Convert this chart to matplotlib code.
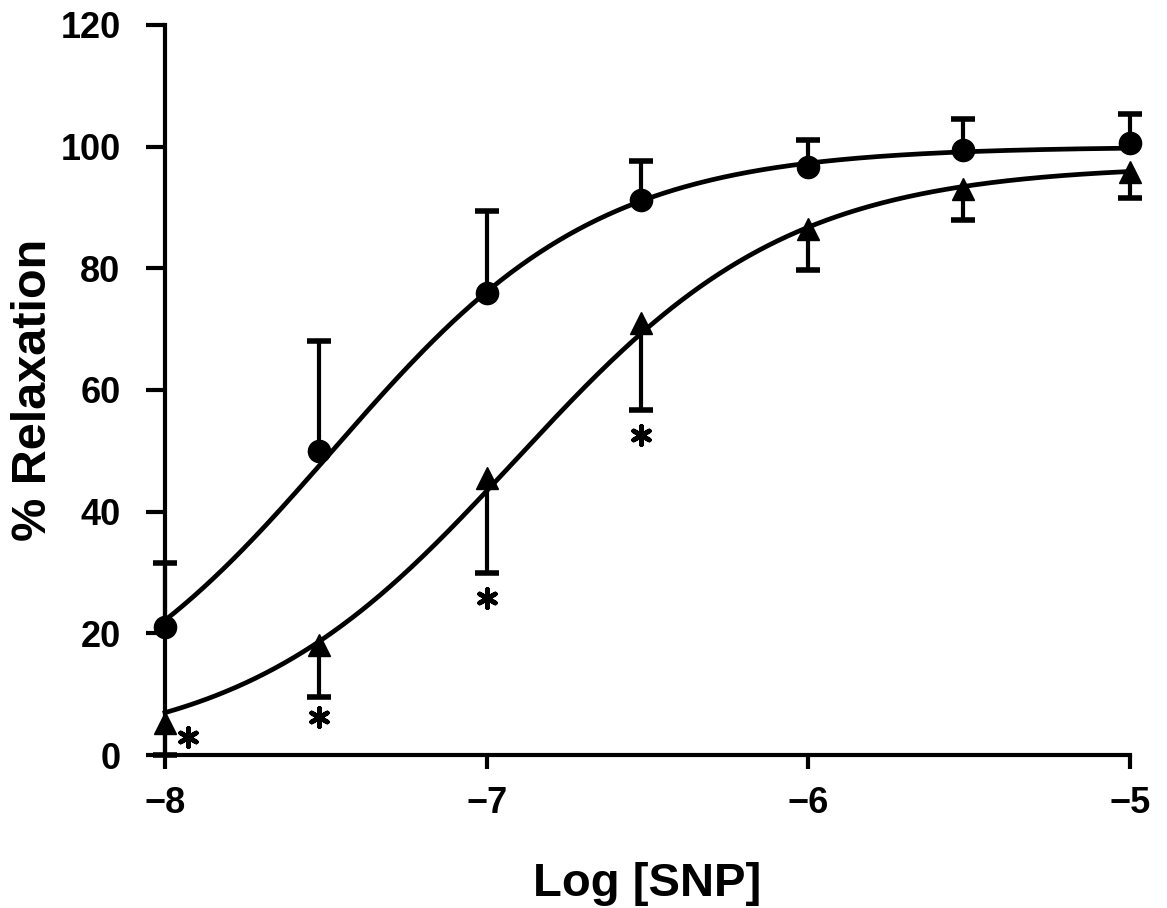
import numpy as np
import matplotlib.pyplot as plt

# log molar SNP concentrations
log_snp = [-8, -7.52, -7, -6.52, -6, -5.52, -5]

# control (circles), mean and upper SEM
ctrl = [21, 50, 76, 91.3, 96.6, 99.5, 100.6]
ctrl_err = [10.5, 18, 13.4, 6.4, 4.5, 5.1, 4.8]

# treated (triangles), mean and lower SEM
treat = [5.3, 18, 45.6, 71, 86.4, 93.1, 95.8]
treat_err = [5.3, 8.4, 15.7, 14.3, 6.6, 5.1, 4.2]

# fitted sigmoid parameters (top, logEC50, hill slope)
ctrl_fit = [100, -7.48, 1.05]
treat_fit = [97, -6.91, 1.02]

# significance asterisks
star_x = [-7.93, -7.52, -7.0, -6.52]
star_y = [3, 6.2, 25.8, 52.6]


def hill(x, top, ec50, h):
    return top / (1 + 10 ** ((ec50 - x) * h))


plt.rcParams['font.family'] = ['Liberation Sans', 'DejaVu Sans']
plt.rcParams['font.weight'] = 'bold'

fig = plt.figure(figsize=(11.67, 9.08), dpi=100)
ax = fig.add_axes([0.1414, 0.1685, 0.8269, 0.804])

xs = np.linspace(-8, -5, 300)
ax.plot(xs, hill(xs, *ctrl_fit), color='black', lw=3.4, clip_on=False)
ax.plot(xs, hill(xs, *treat_fit), color='black', lw=3.4, clip_on=False)

# one-sided error bars: up for control, down for treated
ctrl_top = np.array(ctrl) + np.array(ctrl_err)
treat_bot = np.array(treat) - np.array(treat_err)
ax.vlines(log_snp, ctrl, ctrl_top, color='black', lw=3, clip_on=False)
ax.vlines(log_snp, treat_bot, treat, color='black', lw=3, clip_on=False)
ax.plot(log_snp, ctrl_top, ls='none', marker='_', ms=17, mew=4,
        color='black', clip_on=False)
ax.plot(log_snp, treat_bot, ls='none', marker='_', ms=17, mew=4,
        color='black', clip_on=False)

ax.plot(log_snp, ctrl, ls='none', marker='o', ms=16, color='black',
        clip_on=False, zorder=4)
ax.plot(log_snp, treat, ls='none', marker='^', ms=16, color='black',
        clip_on=False, zorder=4)

ax.scatter(star_x, star_y, marker=(6, 2, 0), s=170, color='black',
           linewidths=3.4, clip_on=False)

ax.set_xlim(-8, -5)
ax.set_ylim(0, 120)
ax.set_xticks([-8, -7, -6, -5])
ax.set_xticklabels(['\u22128', '\u22127', '\u22126', '\u22125'])
ax.set_yticks([0, 20, 40, 60, 80, 100, 120])
ax.spines['top'].set_visible(False)
ax.spines['right'].set_visible(False)
ax.spines['left'].set_linewidth(3)
ax.spines['bottom'].set_linewidth(3)
ax.tick_params(axis='both', width=3, labelsize=26)
ax.tick_params(axis='y', length=14, pad=18)
ax.tick_params(axis='x', length=10, pad=12)

ax.set_xlabel('Log [SNP]', fontsize=34, fontweight='bold', labelpad=30)
ax.set_ylabel('% Relaxation', fontsize=35, fontweight='bold')
ax.yaxis.set_label_coords(-0.113, 0.5)

fig.savefig('out.png', dpi=100)
